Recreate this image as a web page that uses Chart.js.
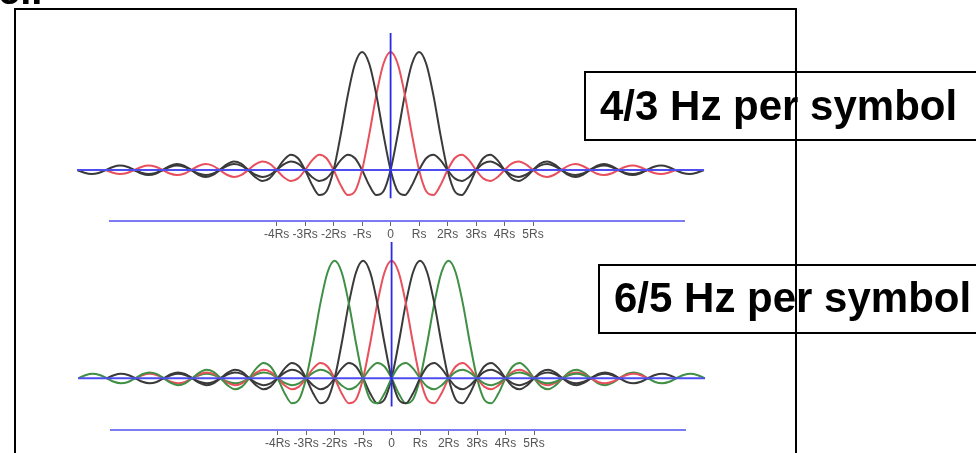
<!DOCTYPE html>
<html><head><meta charset="utf-8">
<script src="https://cdn.jsdelivr.net/npm/chart.js@4.4.1/dist/chart.umd.min.js"></script>
<style>
html,body{margin:0;padding:0;background:#fff;}
body{width:976px;height:453px;overflow:hidden;position:relative;font-family:"Liberation Sans",Arial,sans-serif;}
canvas{position:absolute;left:0;top:0;}
.frame{position:absolute;left:14px;top:8px;width:783px;height:600px;border:2px solid #000;box-sizing:border-box;z-index:5;pointer-events:none;}
.box{position:absolute;border:2px solid #000;box-sizing:border-box;z-index:3;}
.lbl{position:absolute;font-weight:bold;font-size:42px;line-height:42px;white-space:nowrap;color:#000;z-index:4;}
</style></head><body>
<div class="lbl" style="left:-2px;top:-30px;font-size:40px;line-height:40px">el.</div>
<canvas id="c1" width="976" height="453"></canvas>
<canvas id="c2" width="976" height="453"></canvas>
<div class="box" style="left:584px;top:71px;width:500px;height:70px"></div>
<div class="lbl" style="left:600px;top:85px">4/3 Hz per symbol</div>
<div class="box" style="left:598px;top:264px;width:500px;height:70px"></div>
<div class="lbl" style="left:614px;top:277px">6/5 Hz per symbol</div>
<div class="frame"></div>
<script>
// pulse shape: amplitude vs offset from the pulse peak (in Rs), step 0.25
const PULSE_SHAPE = [1, 0.900, 0.637, 0.300, 0, -0.180, -0.212, -0.129, 0, 0.100, 0.130, 0.084, 0,
  -0.071, -0.093, -0.061, 0, 0.054, 0.072, 0.048, 0, -0.044, -0.059, -0.040, 0, 0.037, 0.050, 0.034, 0,
  -0.032, -0.043, -0.030, 0, 0.028, 0.038, 0.026, 0, -0.025, -0.034, -0.023, 0];
const SHAPE_STEP = 0.25;
const TOP_CENTERS = [-1, 0, 1];
const TOP_COLORS = ['#3a3a3a', '#e8505c', '#3a3a3a'];
const TOP_SPAN = 10;
const BOTTOM_CENTERS = [-2, -1, 0, 1, 2];
const BOTTOM_COLORS = ['#3f8f45', '#3a3a3a', '#e8505c', '#3a3a3a', '#3f8f45'];
const BOTTOM_SPAN = 9;
const TICK_VALUES = [-4, -3, -2, -1, 0, 1, 2, 3, 4, 5];
const TICK_LABELS = ['-4Rs', '-3Rs', '-2Rs', '-Rs', '0', 'Rs', '2Rs', '3Rs', '4Rs', '5Rs'];
const BASELINE_EXTENT = [-11, 11];
const VLINE_BOTTOM = -0.24;
const X_RANGE = [-9.85, 10.3];

const W = 976, H = 453, AXIS_H = 20;

function pulse(center, span) {
  const n = Math.round(span / SHAPE_STEP);
  const pts = [];
  for (let i = -n; i <= n; i++) pts.push({x: center + i * SHAPE_STEP, y: PULSE_SHAPE[Math.abs(i)]});
  return pts;
}

function makeChart(id, centers, colors, span, area, yRange) {
  const datasets = [
    {data: [{x: 0, y: yRange[1]}, {x: 0, y: VLINE_BOTTOM}], borderColor: '#2b2be6', borderWidth: 1.8,
     cubicInterpolationMode: 'default', tension: 0, clip: false},
    {data: [{x: BASELINE_EXTENT[0], y: 0}, {x: BASELINE_EXTENT[1], y: 0}], borderColor: '#4d4df0', borderWidth: 1.8,
     cubicInterpolationMode: 'default', tension: 0, clip: false}
  ];
  centers.forEach((c, i) => {
    datasets.push({data: pulse(c, span), borderColor: colors[i], borderWidth: 2,
      cubicInterpolationMode: 'monotone', clip: false});
  });
  return new Chart(document.getElementById(id), {
    type: 'line',
    data: {datasets},
    options: {
      responsive: false, animation: false, devicePixelRatio: 1,
      layout: {padding: {left: area.left, right: W - area.right, top: area.top, bottom: H - area.bottom - AXIS_H}},
      plugins: {legend: {display: false}, tooltip: {enabled: false}},
      elements: {point: {radius: 0}},
      scales: {
        x: {
          type: 'linear', bounds: 'data',
          afterDataLimits: s => { s.min = X_RANGE[0]; s.max = X_RANGE[1]; },
          afterBuildTicks: s => { s.ticks = TICK_VALUES.map(v => ({value: v})); },
          afterFit: s => { s.height = AXIS_H; },
          grid: {drawOnChartArea: false, drawTicks: true, tickLength: 5, color: '#666', lineWidth: 1},
          border: {display: true, color: '#7b7bf2', width: 2},
          ticks: {autoSkip: false, maxRotation: 0, padding: 1, color: '#555',
            font: {family: 'Liberation Sans', size: 12},
            callback: v => { const i = TICK_VALUES.indexOf(v); return i >= 0 ? TICK_LABELS[i] : ''; }}
        },
        y: {display: false, min: yRange[0], max: yRange[1]}
      }
    }
  });
}

makeChart('c1', TOP_CENTERS, TOP_COLORS, TOP_SPAN, {left: 110, right: 684, top: 33, bottom: 221}, [-0.432, 1.161]);
makeChart('c2', BOTTOM_CENTERS, BOTTOM_COLORS, BOTTOM_SPAN, {left: 111, right: 685, top: 242, bottom: 430}, [-0.44, 1.159]);
</script>
</body></html>
